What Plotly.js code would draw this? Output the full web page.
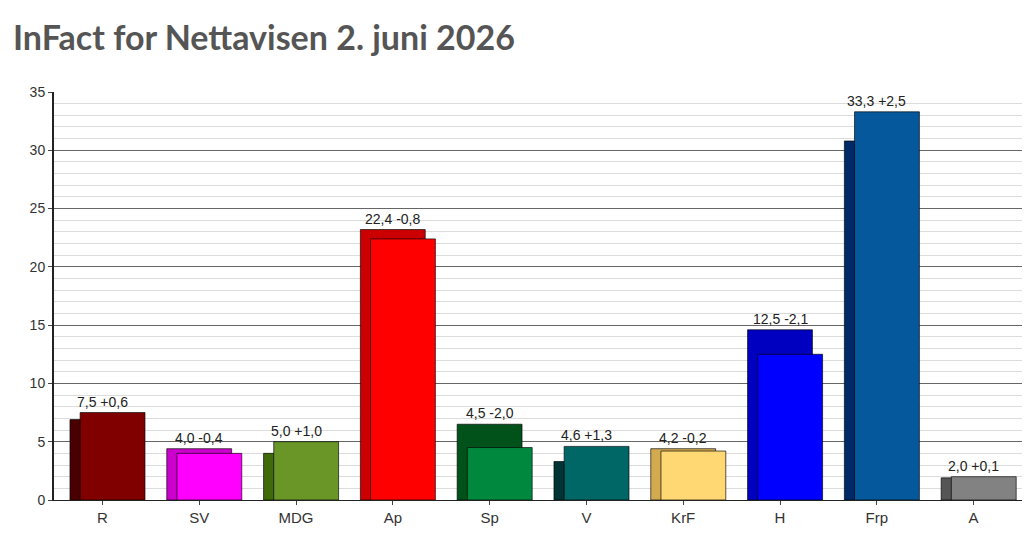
<!DOCTYPE html>
<html>
<head>
<meta charset="utf-8">
<script src="https://cdn.plot.ly/plotly-3.0.1.min.js"></script>
<style>
  body { margin: 0; background: #fff; }
  #chart { width: 1033px; height: 552px; }
</style>
</head>
<body>
<div id="chart"></div>
<script>
const parties = ['R', 'SV', 'MDG', 'Ap', 'Sp', 'V', 'KrF', 'H', 'Frp', 'A'];
const current = [7.5, 4.0, 5.0, 22.4, 4.5, 4.6, 4.2, 12.5, 33.3, 2.0];
const change = [0.6, -0.4, 1.0, -0.8, -2.0, 1.3, -0.2, -2.1, 2.5, 0.1];
const previous = [6.9, 4.4, 4.0, 23.2, 6.5, 3.3, 4.4, 14.6, 30.8, 1.9];
const frontColors = ['#800000', '#ff00ff', '#6a9628', '#ff0000', '#00883f',
  '#006666', '#ffd873', '#0000ff', '#05589b', '#828282'];
const backColors = ['#4a0000', '#cc00cc', '#3f6a0a', '#cc0000', '#00521a',
  '#003333', '#d4aa50', '#0000c0', '#002a66', '#555555'];

function fmt(v) {
  return v.toFixed(1).replace('.', ',');
}
function fmtChange(v) {
  return (v >= 0 ? '+' : '-') + fmt(Math.abs(v));
}

const barWidth = 0.67;

const backTrace = {
  type: 'bar',
  x: parties,
  y: previous,
  width: barWidth,
  offset: -barWidth / 2,
  marker: {color: backColors, line: {color: 'rgba(0,0,0,0.65)', width: 1}},
  hoverinfo: 'skip'
};

const frontTrace = {
  type: 'bar',
  x: parties,
  y: current,
  width: barWidth,
  offset: -barWidth / 2 + 0.105,
  marker: {color: frontColors, line: {color: 'rgba(0,0,0,0.65)', width: 1}},
  hoverinfo: 'skip'
};

const annotations = parties.map((p, i) => ({
  x: p,
  y: Math.max(current[i], previous[i]),
  text: fmt(current[i]) + ' ' + fmtChange(change[i]),
  showarrow: false,
  yanchor: 'bottom',
  yshift: 1,
  font: {family: 'Liberation Sans, Arial, sans-serif', size: 14, color: '#222'}
}));

const layout = {
  width: 1033,
  height: 552,
  margin: {l: 54, r: 11, t: 92, b: 52},
  barmode: 'overlay',
  showlegend: false,
  paper_bgcolor: '#fff',
  plot_bgcolor: '#fff',
  font: {family: 'Liberation Sans, Arial, sans-serif', size: 14, color: '#333'},
  title: {
    text: '<b>InFact for Nettavisen 2. juni 2026</b>',
    xref: 'container', yref: 'container',
    x: 13 / 1033, xanchor: 'left',
    y: 1 - 38 / 552, yanchor: 'middle',
    font: {family: 'Lato, sans-serif', size: 34, color: '#555'}
  },
  xaxis: {
    type: 'category',
    range: [-0.5, 9.5],
    showline: true,
    linecolor: '#222',
    linewidth: 1,
    ticks: 'outside',
    ticklen: 4,
    tickcolor: '#444',
    showgrid: false,
    tickfont: {size: 15, color: '#333'},
    fixedrange: true
  },
  yaxis: {
    range: [0, 35],
    dtick: 5,
    showline: true,
    linecolor: '#222',
    linewidth: 2,
    ticks: 'outside',
    ticklen: 4,
    tickcolor: '#444',
    gridcolor: '#666',
    gridwidth: 1,
    zeroline: false,
    tickfont: {size: 14, color: '#333'},
    minor: {dtick: 1, showgrid: true, gridcolor: '#dcdcdc', gridwidth: 1},
    fixedrange: true
  },
  annotations: annotations
};

Plotly.newPlot('chart', [backTrace, frontTrace], layout, {displayModeBar: false, staticPlot: true});
</script>
</body>
</html>
